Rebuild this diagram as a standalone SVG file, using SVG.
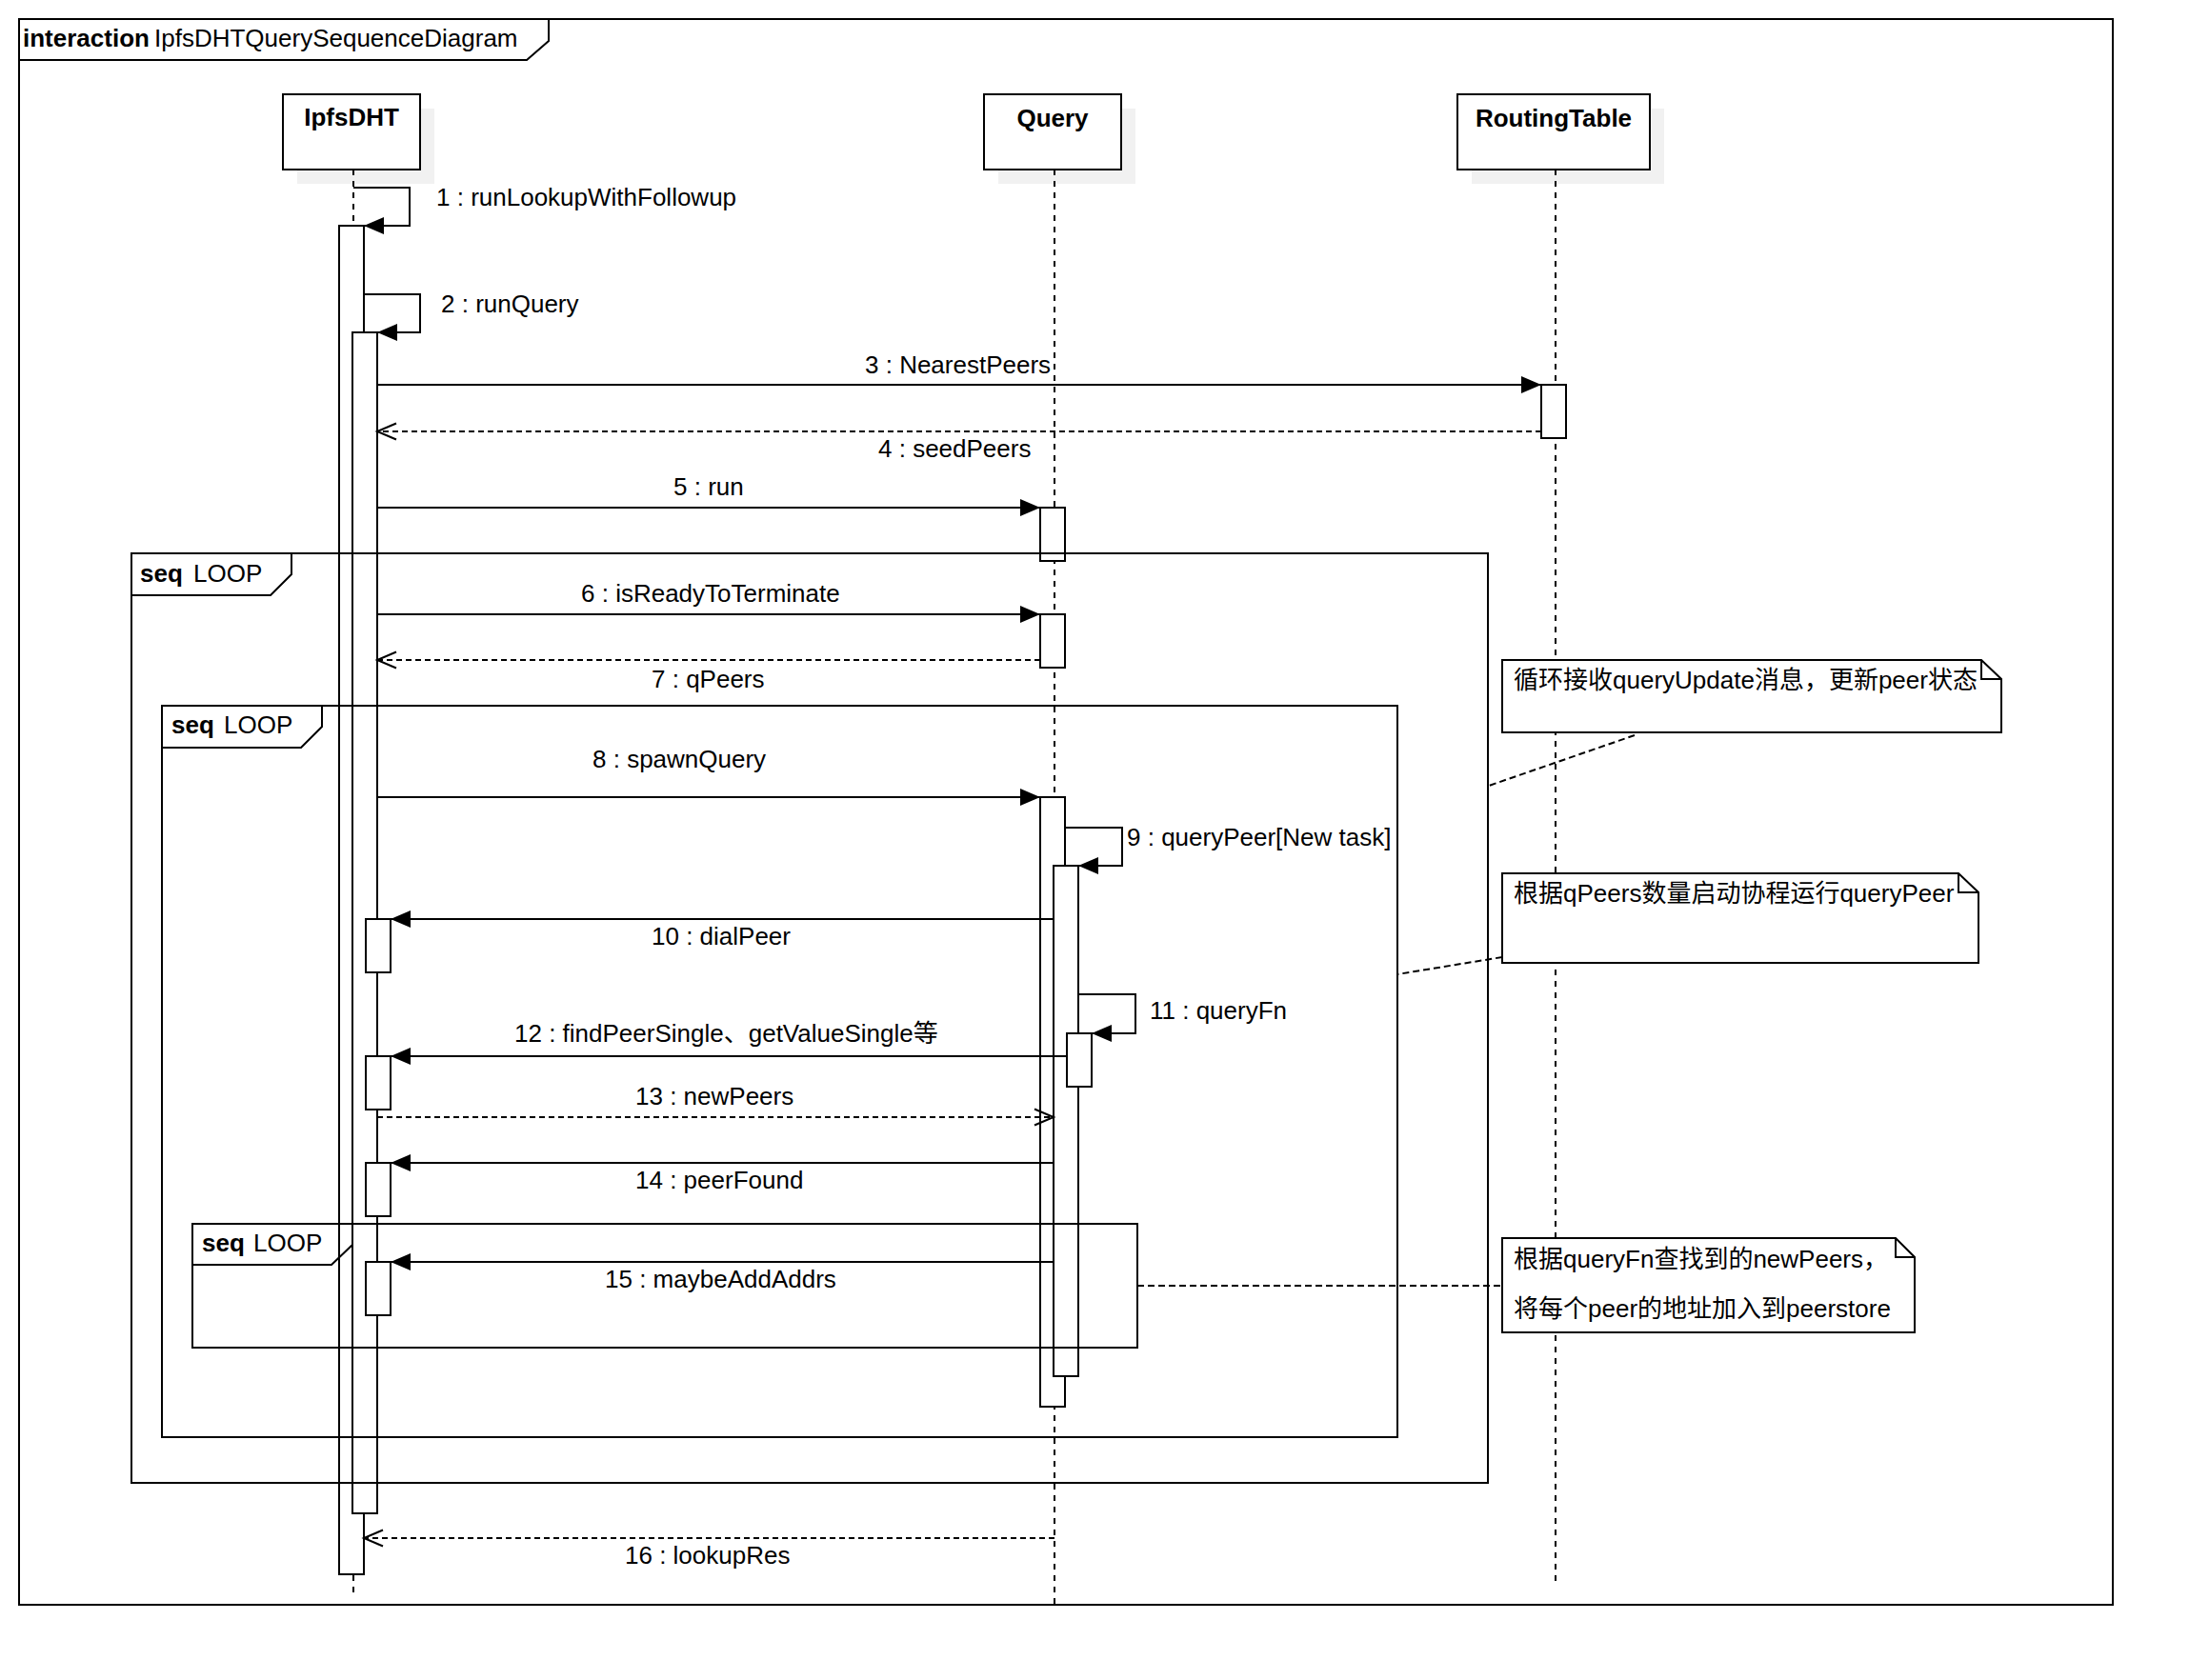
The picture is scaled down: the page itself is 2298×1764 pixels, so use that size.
<svg xmlns="http://www.w3.org/2000/svg" width="2298" height="1764" viewBox="0 0 2298 1764">
<style>
.t{font-family:"Liberation Sans","Noto Sans CJK SC",sans-serif;font-size:26px;fill:#000}
.b{font-weight:bold}
.ln{fill:none;stroke:#000;stroke-width:2}
.life{fill:none;stroke:#000;stroke-width:2;stroke-dasharray:6 6}
.bar{fill:#fff;stroke:#000;stroke-width:2}
.hdr{fill:#fff;stroke:#000;stroke-width:2}
.shd{fill:#f1f1f1;stroke:none}
.msg{fill:none;stroke:#000;stroke-width:2;marker-end:url(#af)}
.ret{fill:none;stroke:#000;stroke-width:2;stroke-dasharray:6 4;marker-end:url(#ao)}
.nl{fill:none;stroke:#000;stroke-width:2;stroke-dasharray:7 4}
.note{fill:#fff;stroke:#000;stroke-width:2}
</style>
<defs>
<marker id="af" markerUnits="userSpaceOnUse" markerWidth="24" markerHeight="22" viewBox="0 -11 24 22" refX="21" refY="0" orient="auto"><path d="M0,-9 L21,0 L0,9 Z" fill="#000" stroke="none"/></marker>
<marker id="ao" markerUnits="userSpaceOnUse" markerWidth="24" markerHeight="22" viewBox="0 -11 24 22" refX="21" refY="0" orient="auto"><path d="M1,-8.5 L21,0 L1,8.5" fill="none" stroke="#000" stroke-width="2" stroke-dasharray="none"/></marker>
</defs>
<rect width="2298" height="1764" fill="#fff"/>

<g id="frame">
<rect class="ln" x="20" y="20" width="2198" height="1665"/>
<path class="ln" d="M20,63 H553 L576,43 V20"/>
<text class="t" x="24" y="49"><tspan class="b">interaction</tspan><tspan x="162">IpfsDHTQuerySequenceDiagram</tspan></text>
</g>

<g id="lifeline-ipfsdht">
<rect class="shd" x="312" y="114" width="144" height="79"/>
<rect class="hdr" x="297" y="99" width="144" height="79"/>
<text class="t b" x="369" y="132" text-anchor="middle">IpfsDHT</text>
<line class="life" x1="371" y1="178" x2="371" y2="1675"/>
<g transform="translate(0,1)">
<rect class="bar" x="356" y="236" width="26" height="1416"/>
<rect class="bar" x="370" y="348" width="26" height="1240"/>
<rect class="bar" x="384" y="964" width="26" height="56"/>
<rect class="bar" x="384" y="1108" width="26" height="56"/>
<rect class="bar" x="384" y="1220" width="26" height="56"/>
<rect class="bar" x="384" y="1324" width="26" height="56"/>
</g>
</g>

<g id="lifeline-query">
<rect class="shd" x="1048" y="114" width="144" height="79"/>
<rect class="hdr" x="1033" y="99" width="144" height="79"/>
<text class="t b" x="1105" y="133" text-anchor="middle">Query</text>
<line class="life" x1="1107" y1="178" x2="1107" y2="1685"/>
<g transform="translate(0,1)">
<rect class="bar" x="1092" y="532" width="26" height="56"/>
<rect class="bar" x="1092" y="644" width="26" height="56"/>
<rect class="bar" x="1092" y="836" width="26" height="640"/>
<rect class="bar" x="1106" y="908" width="26" height="536"/>
<rect class="bar" x="1120" y="1084" width="26" height="56"/>
</g>
</g>

<g id="lifeline-routingtable">
<rect class="shd" x="1545" y="114" width="202" height="79"/>
<rect class="hdr" x="1530" y="99" width="202" height="79"/>
<text class="t b" x="1631" y="133" text-anchor="middle">RoutingTable</text>
<line class="life" x1="1633" y1="178" x2="1633" y2="1663"/>
<rect class="bar" x="1618" y="404" width="26" height="56"/>
</g>

<g transform="translate(0,1)">
<g id="loop1">
<rect class="ln" x="138" y="580" width="1424" height="976"/>
<path class="ln" d="M138,624 H284 L306,602 V580"/>
<text class="t" x="147" y="610"><tspan class="b">seq</tspan><tspan x="203">LOOP</tspan></text>
</g>
<g id="loop2">
<rect class="ln" x="170" y="740" width="1297" height="768"/>
<path class="ln" d="M170,784 H316 L338,762 V740"/>
<text class="t" x="180" y="769"><tspan class="b">seq</tspan><tspan x="235">LOOP</tspan></text>
</g>
<g id="loop3">
<rect class="ln" x="202" y="1284" width="992" height="130"/>
<path class="ln" d="M202,1327 H348 L370,1306 V1284"/>
<text class="t" x="212" y="1313"><tspan class="b">seq</tspan><tspan x="266">LOOP</tspan></text>
</g>

<g id="note1">
<path class="note" d="M1577,692 H2080 L2101,712 V768 H1577 Z"/>
<path class="ln" d="M2080,692 V712 H2101"/>
<text class="t" x="1589" y="722">循环接收queryUpdate消息，更新peer状态</text>
</g>
<g id="note2">
<path class="note" d="M1577,916 H2056 L2077,936 V1010 H1577 Z"/>
<path class="ln" d="M2056,916 V936 H2077"/>
<text class="t" x="1589" y="946">根据qPeers数量启动协程运行queryPeer</text>
</g>
<g id="note3">
<path class="note" d="M1577,1299 H1990 L2010,1319 V1398 H1577 Z"/>
<path class="ln" d="M1990,1299 V1319 H2010"/>
<text class="t" x="1589" y="1330">根据queryFn查找到的newPeers，</text>
<text class="t" x="1589" y="1382">将每个peer的地址加入到peerstore</text>
</g>

<g id="connectors">
<path class="msg" d="M371,196 H430 V236 H382"/>
<text class="t" x="458" y="215">1 : runLookupWithFollowup</text>
<path class="msg" d="M382,308 H441 V348 H396"/>
<text class="t" x="463" y="327">2 : runQuery</text>
<path class="msg" d="M396,403 H1618"/>
<text class="t" x="908" y="391">3 : NearestPeers</text>
<path class="ret" d="M1618,452 H396"/>
<text class="t" x="922" y="479">4 : seedPeers</text>
<path class="msg" d="M396,532 H1092"/>
<text class="t" x="707" y="519">5 : run</text>
<path class="msg" d="M396,644 H1092"/>
<text class="t" x="610" y="631">6 : isReadyToTerminate</text>
<path class="ret" d="M1092,692 H396"/>
<text class="t" x="684" y="721">7 : qPeers</text>
<path class="msg" d="M396,836 H1092"/>
<text class="t" x="622" y="805">8 : spawnQuery</text>
<path class="msg" d="M1118,868 H1178 V908 H1132"/>
<text class="t" x="1183" y="887">9 : queryPeer[New task]</text>
<path class="msg" d="M1106,964 H410"/>
<text class="t" x="684" y="991">10 : dialPeer</text>
<path class="msg" d="M1132,1043 H1192 V1084 H1146"/>
<text class="t" x="1207" y="1069">11 : queryFn</text>
<path class="msg" d="M1120,1108 H410"/>
<text class="t" x="540" y="1093">12 : findPeerSingle、getValueSingle等</text>
<path class="ret" d="M396,1172 H1106"/>
<text class="t" x="667" y="1159">13 : newPeers</text>
<path class="msg" d="M1106,1220 H410"/>
<text class="t" x="667" y="1247">14 : peerFound</text>
<path class="msg" d="M1106,1324 H410"/>
<text class="t" x="635" y="1351">15 : maybeAddAddrs</text>
<path class="ret" d="M1107,1614 H382"/>
<text class="t" x="656" y="1641">16 : lookupRes</text>
<path class="nl" d="M1716,771 L1563,824"/>
<path class="nl" d="M1577,1004 L1467,1022"/>
<path class="nl" d="M1194,1349 H1577"/>
</g>
</g>
</svg>
